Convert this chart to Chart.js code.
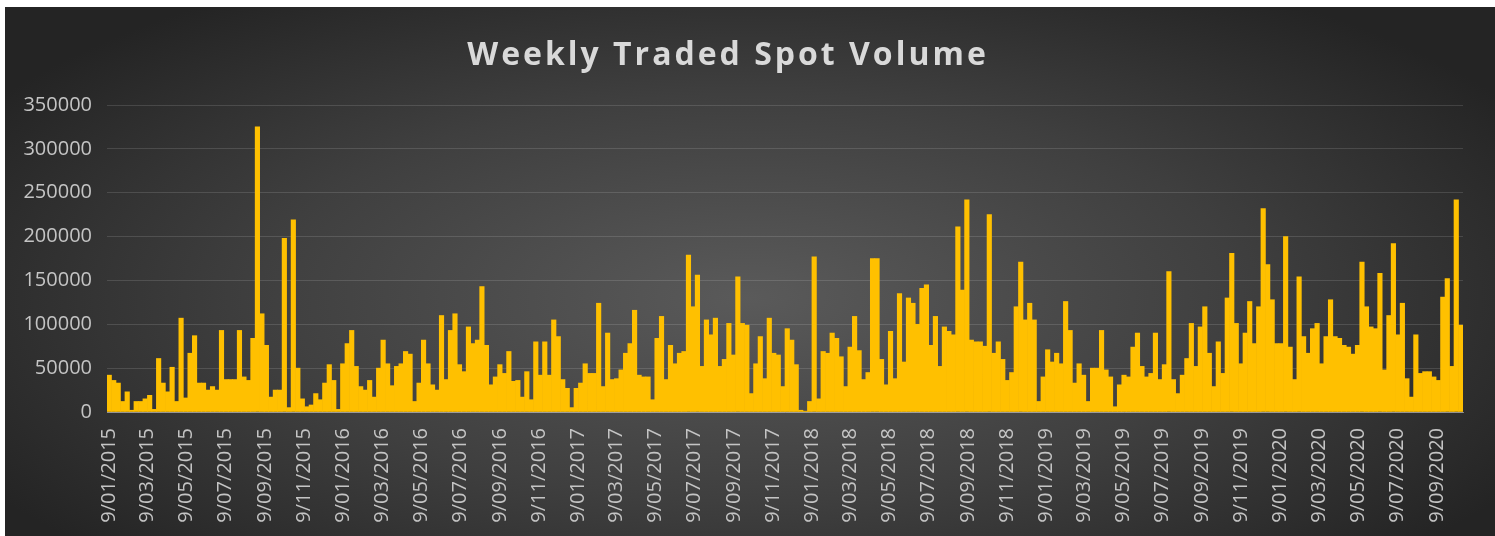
<!DOCTYPE html>
<html>
<head>
<meta charset="utf-8">
<title>Weekly Traded Spot Volume</title>
<script src="https://cdn.jsdelivr.net/npm/chart.js@4.4.1/dist/chart.umd.min.js"></script>
<style>
    html, body { margin: 0; padding: 0; background: #ffffff; }
    #wrap {
        position: absolute;
        left: 5px; top: 7px;
        width: 1490px; height: 529px;
        background: radial-gradient(ellipse 60% 70% at 50% 55%, #5a5a5a 0%, #3f3f3f 55%, #242424 100%);
    }
</style>
</head>
<body>
<div id="wrap"><canvas id="spotChart"></canvas></div>
<script>
// --- data ---
const chartTitle = 'Weekly Traded Spot Volume';
const firstWeek = Date.UTC(2015, 0, 9);   // 9/01/2015, one bar per week after that

const weeklyVolume = [
    // 2015
    42000, 36000, 33000, 12000, 23000, 2000, 12000, 12000, 15000, 19000, 3000, 61000, 33000, 23000, 51000, 12000,
    107000, 16000, 67000, 87000, 33000, 33000, 25000, 29000, 25000, 93000, 37000, 37000, 37000, 93000, 40000,
    36000, 84000, 325000, 112000, 76000, 17000, 25000, 25000, 198000, 5000, 219000, 50000, 15000, 6000, 8000, 21000,
    14000, 33000, 54000, 36000, 3000,
    // 2016
    55000, 78000, 93000, 52000, 29000, 25000, 36000, 17000, 50000, 82000, 55000,
    30000, 52000, 55000, 69000, 66000, 12000, 33000, 82000, 55000, 31000, 25000, 110000, 37000, 93000, 112000, 54000,
    46000, 97000, 78000, 82000, 143000, 76000, 31000, 40000, 54000, 44000, 69000, 35000, 36000, 17000, 46000, 14000,
    80000, 42000, 80000, 42000, 105000, 86000, 37000, 27000, 5000,
    // 2017
    27000, 33000, 55000, 44000, 44000, 124000, 29000, 90000, 37000, 38000, 48000, 67000, 78000, 116000, 42000, 40000,
    40000, 14000, 84000, 109000, 37000, 76000, 55000, 67000,
    69000, 179000, 120000, 156000, 52000, 105000, 88000, 107000, 52000, 60000, 101000, 65000, 154000, 101000, 99000,
    21000, 55000, 86000, 38000, 107000, 67000, 65000, 29000, 95000, 82000, 54000, 2000, 1000,
    // 2018
    12000, 177000, 15000, 69000,
    67000, 90000, 84000, 63000, 29000, 74000, 109000, 70000, 37000, 45000, 175000, 175000, 60000, 31000, 92000, 38000,
    135000, 57000, 130000, 124000, 100000, 141000, 145000, 76000, 109000, 52000, 97000, 92000, 88000, 211000, 139000, 242000,
    82000, 80000, 80000, 75000, 225000, 67000, 80000, 60000, 36000, 45000, 120000, 171000, 105000, 124000, 105000, 12000,
    40000, 71000, 57000, 67000, 55000, 126000, 93000, 33000, 55000, 42000, 12000, 50000, 50000, 93000, 48000, 40000, 6000,
    // 2019
    31000, 42000, 40000, 74000, 90000, 52000, 40000, 44000, 90000, 37000, 54000, 160000, 37000, 21000, 42000, 61000,
    101000, 52000, 97000, 120000, 67000, 29000, 80000, 44000, 130000, 181000, 101000, 55000, 90000, 126000, 78000, 120000,
    232000, 168000, 128000, 78000,
    // 2020
    78000, 200000, 74000, 37000, 154000, 86000, 67000, 95000, 101000, 55000, 86000, 128000,
    86000, 84000, 76000, 74000, 66000, 76000, 171000, 120000, 97000, 95000, 158000, 48000, 110000, 192000, 88000, 124000,
    38000, 17000, 88000, 44000, 46000, 46000, 40000, 36000, 131000, 152000, 52000, 242000, 99000
];

const tickLabels = [
    '9/01/2015', '9/03/2015', '9/05/2015', '9/07/2015', '9/09/2015', '9/11/2015',
    '9/01/2016', '9/03/2016', '9/05/2016', '9/07/2016', '9/09/2016', '9/11/2016',
    '9/01/2017', '9/03/2017', '9/05/2017', '9/07/2017', '9/09/2017', '9/11/2017',
    '9/01/2018', '9/03/2018', '9/05/2018', '9/07/2018', '9/09/2018', '9/11/2018',
    '9/01/2019', '9/03/2019', '9/05/2019', '9/07/2019', '9/09/2019', '9/11/2019',
    '9/01/2020', '9/03/2020', '9/05/2020', '9/07/2020', '9/09/2020'
];

const yMax = 350000;
const yStep = 50000;

// --- helpers: everything on the x axis is counted in days from firstWeek ---
const DAY = 86400000;
function dayOffset(label) {
    const [d, m, y] = label.split('/').map(Number);
    return (Date.UTC(y, m - 1, d) - firstWeek) / DAY;
}
const tickDays = tickLabels.map(dayOffset);
const points = weeklyVolume.map((v, i) => ({ x: i * 7, y: v }));

// title with letter spacing (Chart.js title has none)
const spacedTitle = {
    id: 'spacedTitle',
    afterDraw(chart) {
        const ctx = chart.ctx;
        ctx.save();
        ctx.font = 'bold 32px "Open Sans"';
        ctx.fillStyle = '#d9d9d9';
        ctx.textAlign = 'center';
        ctx.textBaseline = 'middle';
        ctx.letterSpacing = '3px';
        ctx.fillText(chartTitle, chart.width / 2 - 22, 49);
        ctx.restore();
    }
};

document.addEventListener('DOMContentLoaded', () => {
    Chart.defaults.font.family = "'Open Sans', sans-serif";
    Chart.defaults.color = '#c4c4c4';

    new Chart(document.getElementById('spotChart').getContext('2d'), {
        type: 'bar',
        data: {
            datasets: [{
                label: chartTitle,
                data: points,
                backgroundColor: '#FFC000',
                borderWidth: 0,
                barPercentage: 1,
                categoryPercentage: 1
            }]
        },
        options: {
            responsive: true,
            maintainAspectRatio: false,
            animation: false,
            layout: { padding: { top: 98, right: 32, bottom: 0, left: 0 } },
            plugins: {
                legend: { display: false },
                tooltip: { enabled: false },
                title: { display: false }
            },
            scales: {
                x: {
                    type: 'linear',
                    offset: false,
                    min: -3.5,
                    max: (weeklyVolume.length - 1) * 7 + 3.5,
                    grid: { display: false, offset: false, drawTicks: false },
                    border: { display: true, color: 'rgba(210, 210, 210, 0.55)', width: 1 },
                    afterBuildTicks: (scale) => {
                        scale.ticks = tickDays.map(v => ({ value: v }));
                    },
                    afterFit: (scale) => { scale.height = 124; },
                    ticks: {
                        autoSkip: false,
                        minRotation: 90,
                        maxRotation: 90,
                        padding: 16,
                        font: { size: 20 },
                        callback: (value, index) => tickLabels[index]
                    }
                },
                y: {
                    min: 0,
                    max: yMax,
                    grid: { color: 'rgba(255, 255, 255, 0.13)', drawTicks: false },
                    border: { display: false },
                    afterFit: (scale) => { scale.width = 102; },
                    ticks: {
                        stepSize: yStep,
                        padding: 15,
                        font: { size: 20 },
                        callback: (value) => String(value)
                    }
                }
            }
        },
        plugins: [spacedTitle]
    });
});
</script>
</body>
</html>
